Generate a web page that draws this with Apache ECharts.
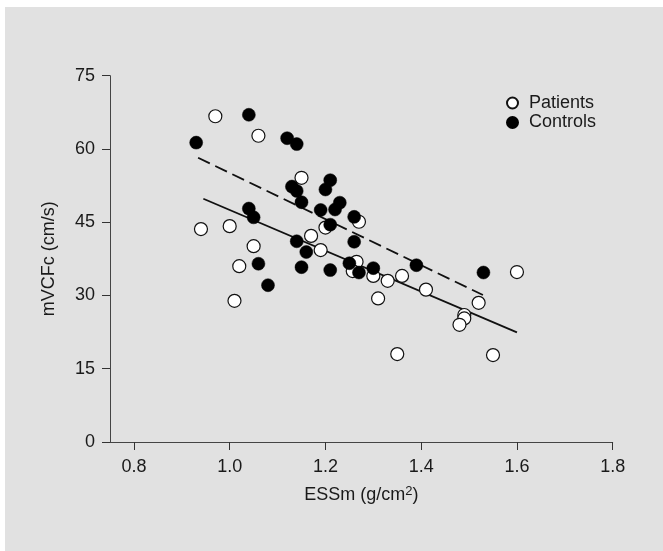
<!DOCTYPE html>
<html>
<head>
<meta charset="utf-8">
<script src="https://cdn.jsdelivr.net/npm/echarts@6/dist/echarts.min.js"></script>
<style>
  html, body { margin: 0; padding: 0; background: #fff; }
  #bg { position: absolute; left: 5px; top: 7px; width: 658px; height: 544px; background: #e1e1e1; }
  #main { position: absolute; left: 0; top: 0; width: 663px; height: 551px; }
</style>
</head>
<body>
<div id="bg"></div>
<div id="main"></div>
<script>
// patients (open circles): [ESSm, mVCFc]
var patients = [
  [0.97, 66.7], [1.06, 62.7], [1.15, 54.1], [0.94, 43.6], [1.00, 44.2],
  [1.05, 40.1], [1.02, 36.0], [1.01, 28.9], [1.17, 42.2], [1.19, 39.3],
  [1.20, 43.9], [1.27, 45.1], [1.265, 36.9], [1.257, 35.0], [1.30, 34.0],
  [1.33, 33.0], [1.36, 34.0], [1.31, 29.4], [1.41, 31.2], [1.52, 28.5],
  [1.49, 26.0], [1.49, 25.3], [1.48, 24.0], [1.35, 18.0], [1.55, 17.8],
  [1.60, 34.8]
];

// controls (filled circles)
var controls = [
  [0.93, 61.3], [1.04, 67.0], [1.12, 62.2], [1.14, 61.0], [1.13, 52.3],
  [1.14, 51.4], [1.15, 49.1], [1.21, 53.6], [1.20, 51.7], [1.19, 47.5],
  [1.22, 47.6], [1.23, 49.0], [1.21, 44.5], [1.04, 47.8], [1.05, 46.0],
  [1.14, 41.1], [1.16, 38.9], [1.15, 35.8], [1.21, 35.2], [1.06, 36.5],
  [1.08, 32.1], [1.26, 46.1], [1.26, 41.0], [1.25, 36.6], [1.27, 34.7],
  [1.30, 35.6], [1.39, 36.2], [1.53, 34.7]
];

// regression lines, end points
var patientsFit = [[0.945, 49.8], [1.60, 22.45]];
var controlsFit = [[0.934, 58.2], [1.529, 30.1]];

var xTicks = [0.8, 1.0, 1.2, 1.4, 1.6, 1.8];

var font = 'Liberation Sans, Arial, sans-serif';
var ink = '#1a1a1a';

var myChart = echarts.init(document.getElementById('main'));

myChart.setOption({
  backgroundColor: 'transparent',
  animation: false,
  textStyle: { fontFamily: font, color: ink },
  grid: { left: 110, top: 75.7, right: 50.3, bottom: 109, containLabel: false },
  legend: {
    orient: 'vertical',
    left: 506,
    top: 94,
    padding: 0,
    itemWidth: 11,
    itemHeight: 11,
    itemGap: 1.5,
    icon: 'circle',
    data: ['Patients', 'Controls'],
    textStyle: { fontFamily: font, fontSize: 18, color: ink, padding: [0, 0, 0, 6] }
  },
  xAxis: {
    type: 'value',
    min: 0.75,
    max: 1.8,
    name: '{a|ESSm (g/cm}{s|2}{a|)}',
    nameLocation: 'middle',
    nameGap: 43,
    nameTextStyle: {
      rich: {
        a: { fontFamily: font, fontSize: 18, color: ink },
        s: { fontFamily: font, fontSize: 13, color: ink, verticalAlign: 'bottom', padding: [0, 0, 8, 0] }
      }
    },
    splitLine: { show: false },
    axisLine: { lineStyle: { color: '#444', width: 1 } },
    axisTick: { length: 8, lineStyle: { color: '#333' }, customValues: xTicks },
    axisLabel: {
      customValues: xTicks,
      margin: 16,
      fontSize: 18,
      color: ink,
      fontFamily: font,
      formatter: function (v) { return v.toFixed(1); }
    }
  },
  yAxis: {
    type: 'value',
    min: 0,
    max: 75,
    interval: 15,
    name: 'mVCFc (cm/s)',
    nameLocation: 'middle',
    nameGap: 52,
    nameTextStyle: { fontFamily: font, fontSize: 18, color: ink },
    splitLine: { show: false },
    axisLine: { show: true, lineStyle: { color: '#444', width: 1 } },
    axisTick: { show: true, length: 8, lineStyle: { color: '#333' } },
    axisLabel: { margin: 15, fontSize: 18, color: ink, fontFamily: font }
  },
  series: [
    {
      name: 'patientsFit',
      type: 'line',
      data: patientsFit,
      symbol: 'none',
      z: 1,
      lineStyle: { color: '#111', width: 1.8 }
    },
    {
      name: 'controlsFit',
      type: 'line',
      data: controlsFit,
      symbol: 'none',
      z: 1,
      lineStyle: { color: '#111', width: 1.8, type: [13, 6] }
    },
    {
      name: 'Patients',
      type: 'scatter',
      data: patients,
      symbolSize: 13,
      z: 2,
      itemStyle: { color: '#fff', borderColor: '#111', borderWidth: 1.2, opacity: 1 }
    },
    {
      name: 'Controls',
      type: 'scatter',
      data: controls,
      symbolSize: 13,
      z: 3,
      itemStyle: { color: '#000', borderColor: '#000', borderWidth: 0.5, opacity: 1 }
    }
  ]
});
</script>
</body>
</html>
